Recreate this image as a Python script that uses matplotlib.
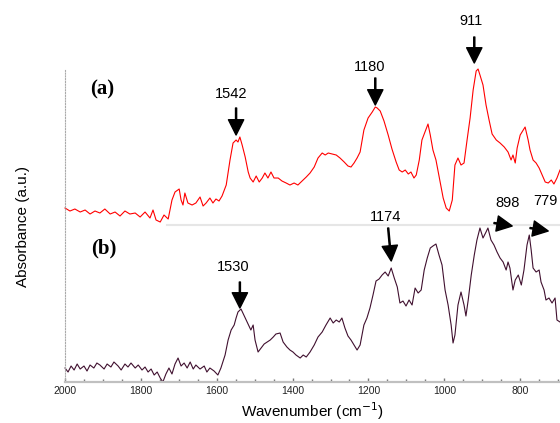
import numpy as np
import matplotlib as mpl
mpl.use('Agg')
import matplotlib.pyplot as plt

mpl.rcParams['font.family'] = ['Liberation Sans', 'DejaVu Sans']

# spectrum (a), stacked on top, a.u.
wn_a = [2000, 1987, 1974, 1960, 1947, 1934, 1921, 1908, 1895, 1881, 1868, 1855, 1842, 1829,
        1815, 1802, 1789, 1776, 1768, 1760, 1749, 1739, 1728, 1718, 1710, 1699, 1694, 1689,
        1684, 1676, 1665, 1655, 1644, 1636, 1628, 1618, 1610, 1602, 1594, 1586, 1575, 1565,
        1557, 1549, 1544, 1539, 1533, 1525, 1517, 1512, 1504, 1496, 1488, 1480, 1473, 1465,
        1457, 1449, 1438, 1428, 1417, 1407, 1396, 1386, 1375, 1364, 1354, 1343, 1333, 1322,
        1314, 1306, 1296, 1285, 1275, 1264, 1254, 1246, 1238, 1230, 1222, 1212, 1201, 1190,
        1182, 1177, 1169, 1159, 1148, 1138, 1127, 1119, 1111, 1103, 1095, 1088, 1080, 1074,
        1066, 1059, 1051, 1043, 1037, 1030, 1022, 1011, 1003, 995, 987, 979, 972, 964, 956,
        948, 940, 932, 924, 916, 911, 906, 898, 890, 882, 874, 863, 853, 842, 832, 824, 819,
        813, 808, 800, 792, 787, 779, 774, 766, 758, 750, 742, 734, 726, 718, 711, 703, 695]
abs_a = [1.74, 1.71, 1.73, 1.70, 1.72, 1.68, 1.71, 1.69, 1.73, 1.68, 1.70, 1.66, 1.71, 1.68,
         1.69, 1.65, 1.70, 1.64, 1.72, 1.62, 1.60, 1.67, 1.63, 1.82, 1.90, 1.93, 1.82, 1.77,
         1.89, 1.79, 1.77, 1.79, 1.85, 1.76, 1.79, 1.84, 1.79, 1.83, 1.81, 1.86, 1.97, 2.22,
         2.39, 2.42, 2.40, 2.45, 2.37, 2.25, 2.10, 2.04, 2.00, 2.06, 2.00, 2.04, 2.09, 2.04,
         2.10, 2.04, 2.04, 2.01, 1.99, 1.97, 1.99, 1.97, 2.01, 2.05, 2.09, 2.15, 2.24, 2.29,
         2.27, 2.29, 2.28, 2.27, 2.24, 2.20, 2.16, 2.15, 2.19, 2.24, 2.30, 2.52, 2.64, 2.70,
         2.75, 2.74, 2.71, 2.61, 2.47, 2.33, 2.20, 2.12, 2.10, 2.12, 2.08, 2.10, 2.04, 2.07,
         2.22, 2.42, 2.50, 2.58, 2.47, 2.32, 2.22, 2.00, 1.84, 1.74, 1.71, 1.82, 2.17, 2.24,
         2.17, 2.19, 2.42, 2.64, 2.92, 3.11, 3.13, 3.07, 2.97, 2.77, 2.62, 2.48, 2.42, 2.39,
         2.35, 2.30, 2.22, 2.27, 2.19, 2.34, 2.47, 2.52, 2.55, 2.42, 2.32, 2.22, 2.19, 2.14,
         2.07, 2.00, 1.99, 2.02, 1.98, 2.04, 2.12]

# spectrum (b), bottom
wn_b = [2000, 1992, 1984, 1976, 1968, 1960, 1950, 1942, 1934, 1924, 1916, 1908, 1897, 1889,
        1879, 1871, 1860, 1852, 1842, 1834, 1826, 1815, 1807, 1797, 1789, 1781, 1773, 1765,
        1757, 1749, 1742, 1734, 1726, 1718, 1710, 1702, 1694, 1686, 1678, 1670, 1662, 1655,
        1644, 1633, 1626, 1618, 1607, 1597, 1589, 1578, 1570, 1562, 1554, 1549, 1544, 1536,
        1531, 1525, 1520, 1515, 1510, 1504, 1499, 1491, 1483, 1475, 1467, 1459, 1451, 1444,
        1433, 1425, 1415, 1407, 1399, 1391, 1380, 1372, 1364, 1354, 1343, 1333, 1322, 1312,
        1301, 1293, 1285, 1277, 1270, 1262, 1254, 1246, 1238, 1230, 1222, 1217, 1212, 1204,
        1196, 1188, 1180, 1172, 1164, 1156, 1148, 1140, 1132, 1124, 1117, 1109, 1101, 1093,
        1085, 1077, 1069, 1061, 1053, 1045, 1037, 1030, 1022, 1014, 1006, 998, 990, 982, 977,
        972, 964, 956, 948, 943, 937, 929, 921, 914, 906, 898, 890, 885, 877, 869, 861, 853,
        845, 837, 832, 827, 819, 813, 805, 797, 790, 782, 776, 771, 766, 758, 750, 745, 737,
        732, 724, 716, 708, 703, 695]
abs_b = [0.14, 0.10, 0.16, 0.12, 0.18, 0.13, 0.16, 0.11, 0.17, 0.14, 0.19, 0.17, 0.13, 0.18,
         0.15, 0.20, 0.16, 0.12, 0.18, 0.15, 0.19, 0.14, 0.17, 0.12, 0.15, 0.10, 0.13, 0.07,
         0.10, 0.04, 0.00, 0.08, 0.14, 0.08, 0.18, 0.24, 0.16, 0.19, 0.14, 0.20, 0.13, 0.17,
         0.13, 0.16, 0.10, 0.14, 0.11, 0.07, 0.14, 0.27, 0.42, 0.52, 0.57, 0.64, 0.70, 0.73,
         0.69, 0.64, 0.60, 0.56, 0.52, 0.57, 0.42, 0.30, 0.34, 0.38, 0.40, 0.42, 0.45, 0.48,
         0.49, 0.40, 0.35, 0.32, 0.30, 0.27, 0.24, 0.27, 0.25, 0.30, 0.37, 0.45, 0.50, 0.57,
         0.64, 0.59, 0.62, 0.60, 0.64, 0.54, 0.46, 0.42, 0.37, 0.32, 0.37, 0.47, 0.57, 0.64,
         0.74, 0.87, 1.01, 1.03, 1.07, 1.10, 1.06, 1.14, 1.04, 0.95, 0.79, 0.81, 0.76, 0.82,
         0.77, 0.94, 0.89, 0.92, 1.12, 1.24, 1.34, 1.36, 1.38, 1.27, 1.17, 0.92, 0.77, 0.57,
         0.39, 0.47, 0.77, 0.90, 0.77, 0.66, 0.82, 1.07, 1.27, 1.42, 1.54, 1.44, 1.50, 1.54,
         1.42, 1.37, 1.30, 1.24, 1.20, 1.12, 1.20, 1.14, 0.92, 1.02, 1.07, 0.97, 1.12, 1.37,
         1.47, 1.32, 1.14, 1.10, 1.12, 1.00, 0.92, 0.82, 0.84, 0.79, 0.84, 0.62, 0.60]

# peak labels: (text, label pos, arrow tail, arrow tip)
peaks = [
    ('1542', (1562, 2.88), (1549, 2.74), (1549, 2.47)),
    ('1180', (1198, 3.15), (1182, 3.04), (1182, 2.77)),
    ('911',  (929, 3.61),  (921, 3.45),  (921, 3.19)),
    ('1530', (1557, 1.15), (1539, 1.00), (1539, 0.74)),
    ('1174', (1154, 1.65), (1148, 1.54), (1140, 1.21)),
    ('898',  (834, 1.79),  (869, 1.59),  (821, 1.56)),
    ('779',  (734, 1.81),  (774, 1.54),  (726, 1.51)),
]

fig = plt.figure(figsize=(5.6, 4.23), dpi=100)
ax = fig.add_axes([0.1161, 0.0969, 0.8839, 0.7376])

ax.axhline(1.57, xmin=0.206, xmax=1, color='#e6e6e6', lw=1.5, zorder=0)
ax.plot(wn_a, abs_a, color='#ff0000', lw=0.8, clip_on=False)
ax.plot(wn_b, abs_b, color='#40102f', lw=0.8, clip_on=False)

for txt, lpos, tail, tip in peaks:
    ax.text(lpos[0], lpos[1], txt, fontsize=10.5, ha='center', va='center')
    ax.annotate('', xy=tip, xytext=tail, annotation_clip=False,
                arrowprops=dict(facecolor='black', edgecolor='black', width=0.8,
                                headwidth=11, headlength=11, shrink=0))

ax.text(1902, 2.93, '(a)', fontsize=15, fontweight='bold', ha='center', va='center',
        family=['Liberation Serif', 'DejaVu Serif'])
ax.text(1897, 1.34, '(b)', fontsize=15, fontweight='bold', ha='center', va='center',
        family=['Liberation Serif', 'DejaVu Serif'])

ax.set_xlim(2000, 695)
ax.set_ylim(0, 3.12)
ax.set_xticks([2000, 1800, 1600, 1400, 1200, 1000, 800])
ax.set_xticks(np.arange(2000, 690, -50), minor=True)
ax.set_yticks([])
ax.tick_params(axis='x', which='both', direction='in', colors='#777777',
               labelcolor='#222222', labelsize=7.5, pad=3)
ax.tick_params(axis='x', which='major', length=3, width=1)
ax.tick_params(axis='x', which='minor', length=2, width=1)

ax.spines['top'].set_visible(False)
ax.spines['right'].set_visible(False)
ax.spines['bottom'].set_color('#c0c0c0')
ax.spines['bottom'].set_linewidth(1.6)
ax.spines['left'].set_color('#aaaaaa')
ax.spines['left'].set_linewidth(0.8)
ax.spines['left'].set_linestyle((0, (1, 1.5)))

ax.set_xlabel('Wavenumber (cm$^{-1}$)', fontsize=11)
ax.xaxis.set_label_coords(0.5, -0.058)
ax.set_ylabel('Absorbance (a.u.)', fontsize=11)
ax.yaxis.set_label_coords(-0.07, 0.5)

fig.savefig('out.png', dpi=100)
